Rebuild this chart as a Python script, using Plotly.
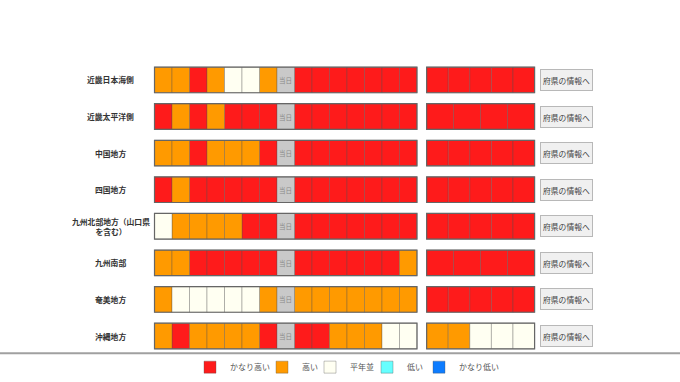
import plotly.graph_objects as go

# ---------------- data ----------------
regions = ["近畿日本海側", "近畿太平洋側", "中国地方", "四国地方",
           "九州北部地方（山口県<br>を含む）", "九州南部", "奄美地方", "沖縄地方"]
levels = ["かなり高い", "高い", "平年並", "低い", "かなり低い"]
today_label = "当日"
button_label = "府県の情報へ"

# level index per cell: 0=かなり高い 1=高い 2=平年並
past_days = [
    [1, 1, 0, 1, 2, 2, 1],
    [0, 1, 0, 1, 0, 0, 0],
    [1, 1, 0, 1, 1, 1, 0],
    [0, 1, 0, 0, 0, 0, 0],
    [2, 1, 1, 1, 1, 0, 0],
    [1, 1, 0, 0, 0, 0, 0],
    [1, 2, 2, 2, 2, 2, 1],
    [1, 0, 1, 1, 1, 1, 0],
]
next_days = [
    [0, 0, 0, 0, 0, 0, 0],
    [0, 0, 0, 0, 0, 0, 0],
    [0, 0, 0, 0, 0, 0, 0],
    [0, 0, 0, 0, 0, 0, 0],
    [0, 0, 0, 0, 0, 0, 0],
    [0, 0, 0, 0, 0, 0, 1],
    [1, 1, 1, 1, 1, 1, 1],
    [0, 0, 1, 1, 1, 2, 2],
]
week2 = [
    [0, 0, 0, 0, 0],
    [0, 0, 0, 0],
    [0, 0, 0, 0, 0],
    [0, 0, 0, 0, 0],
    [0, 0, 0, 0, 0],
    [0, 0, 0, 0],
    [0, 0, 0, 0, 0],
    [1, 1, 2, 2, 2],
]

# ---------------- styles / geometry ----------------
level_colors = ["#fe1b1b", "#ff9a00", "#fffff2", "#66ffff", "#0d7cff"]
FONT = "Noto Sans CJK JP"
RB = 15.55      # right block start (cell units)
RW = 6.17       # right block width
BAR_W = 0.70
legend_px = [190, 262, 310, 367, 419]   # legend box left edges (px)

cells = {i: {"y": [], "base": [], "x": []} for i in range(len(levels))}
today = {"y": [], "base": [], "x": []}
blocks = {"y": [], "base": [], "x": []}
for r in range(len(regions)):
    seq = past_days[r] + [None] + next_days[r]
    for k, lv in enumerate(seq):
        d = today if lv is None else cells[lv]
        d["y"].append(r); d["base"].append(k); d["x"].append(1)
    n = len(week2[r])
    for k, lv in enumerate(week2[r]):
        cells[lv]["y"].append(r); cells[lv]["base"].append(RB + k * RW / n); cells[lv]["x"].append(RW / n)
    blocks["y"] += [r, r]; blocks["base"] += [0, RB]; blocks["x"] += [15, RW]

fig = go.Figure()
legend_names = ["legend", "legend2", "legend3", "legend4", "legend5"]
for i, name in enumerate(levels):
    d = cells[i]
    fig.add_trace(go.Bar(
        name=name, orientation="h", y=d["y"] or [None], base=d["base"] or [None], x=d["x"] or [None],
        width=BAR_W, marker=dict(color=level_colors[i], line=dict(color="rgba(80,80,80,0.35)", width=1)),
        hoverinfo="skip", showlegend=True, legend=legend_names[i]))
fig.add_trace(go.Bar(
    orientation="h", y=today["y"], base=today["base"], x=today["x"], width=BAR_W,
    marker=dict(color="#c9c9c9", line=dict(color="rgba(80,80,80,0.35)", width=1)),
    hoverinfo="skip", showlegend=False))
fig.add_trace(go.Bar(
    orientation="h", y=blocks["y"], base=blocks["base"], x=blocks["x"], width=BAR_W,
    marker=dict(color="rgba(0,0,0,0)", line=dict(color="#666666", width=1.2)),
    hoverinfo="skip", showlegend=False))

ann = []
for r, name in enumerate(regions):
    ann.append(dict(x=-2.49, y=r, xref="x", yref="y", text="<b>" + name + "</b>", showarrow=False,
                    align="center", font=dict(size=7.8, color="#333", family=FONT)))
    ann.append(dict(x=23.57, y=r, xref="x", yref="y", text=button_label, showarrow=False,
                    font=dict(size=7.8, color="#444", family=FONT), bgcolor="#f0f0f0",
                    bordercolor="#b8b8b8", borderwidth=1, width=51, height=20, borderpad=0))
for yv, xv in zip(today["y"], today["base"]):
    ann.append(dict(x=xv + 0.5, y=yv, xref="x", yref="y", text=today_label, showarrow=False,
                    font=dict(size=6.5, color="#8a8a8a", family=FONT)))

legends = {}
for i, ln in enumerate(legend_names):
    legends[ln] = dict(orientation="h", x=legend_px[i] / 680, xanchor="left", y=1 - 372 / 382, yanchor="middle",
                       font=dict(size=8, color="#555", family=FONT), bgcolor="rgba(0,0,0,0)",
                       itemclick=False, itemdoubleclick=False)

fig.update_layout(
    width=680, height=382, margin=dict(l=0, r=0, t=0, b=0),
    paper_bgcolor="white", plot_bgcolor="white", barmode="overlay",
    xaxis=dict(range=[-8.83, 30.03], visible=False, fixedrange=True),
    yaxis=dict(range=[8.12, -2.185], visible=False, fixedrange=True),
    annotations=ann,
    shapes=[dict(type="line", xref="paper", yref="paper", x0=0, x1=1, y0=1 - 358 / 382, y1=1 - 358 / 382,
                 line=dict(color="#a0a0a0", width=2))],
    font=dict(family=FONT),
    **legends,
)
fig.write_html(
    "out.html",
    config={"displayModeBar": False},
    post_script="document.body.style.margin='0';",
)
